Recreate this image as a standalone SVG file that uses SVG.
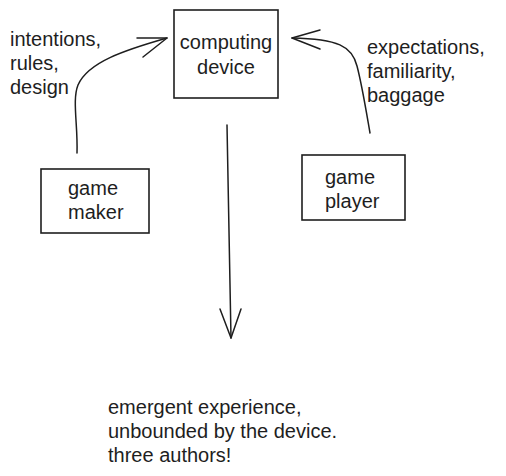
<svg xmlns="http://www.w3.org/2000/svg" width="506" height="476" viewBox="0 0 506 476">
<style>
.box{fill:none;stroke:#1e1e1e;stroke-width:1.6}
.ln{fill:none;stroke:#1e1e1e;stroke-width:1.5;stroke-linecap:round;stroke-linejoin:round}
text{font-family:"Liberation Sans",Arial,sans-serif;font-size:20px;fill:#1e1e1e}
</style>
<rect width="506" height="476" fill="#ffffff"/>
<g id="computing-device">
<rect class="box" x="174" y="10" width="104" height="88"/>
<text x="226" y="49" text-anchor="middle">computing</text>
<text x="226" y="74" text-anchor="middle">device</text>
</g>
<g id="game-maker">
<rect class="box" x="41" y="169" width="108" height="64"/>
<text x="68" y="195">game</text>
<text x="68" y="219">maker</text>
</g>
<g id="game-player">
<rect class="box" x="302" y="155" width="103" height="65"/>
<text x="325" y="184">game</text>
<text x="325" y="208">player</text>
</g>
<g id="labels">
<text x="10" y="46">intentions,</text>
<text x="10" y="70">rules,</text>
<text x="10" y="94">design</text>
<text x="367" y="54">expectations,</text>
<text x="367" y="78">familiarity,</text>
<text x="367" y="102">baggage</text>
<text x="108" y="414">emergent experience,</text>
<text x="108" y="438">unbounded by the device.</text>
<text x="108" y="462">three authors!</text>
</g>
<g id="connectors">
<path class="ln" d="M77 153 C78 125 72 100 78 85 C88 62 125 50 167 38"/>
<path class="ln" d="M137 38 L167 38 L143 57"/>
<path class="ln" d="M370 133 C366 110 362 85 357 66 C352 46 338 39 292 38"/>
<path class="ln" d="M320 30 L292 38 L320 49"/>
<path class="ln" d="M227 125 L231 338"/>
<path class="ln" d="M220 309 L231 338 L241 309"/>
</g>
</svg>
